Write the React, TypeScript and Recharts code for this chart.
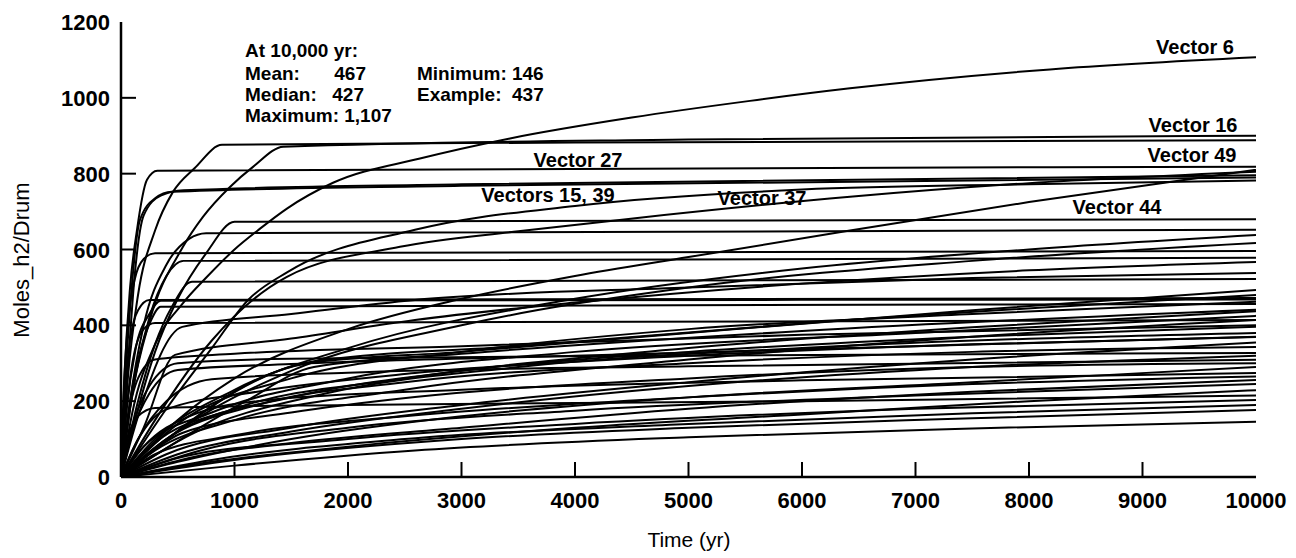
import React from "react";
import { LineChart, Line, XAxis, YAxis } from "recharts";

type Pt = [number, number];

const xTicks = [0, 1000, 2000, 3000, 4000, 5000, 6000, 7000, 8000, 9000, 10000];
const yTicks = [0, 200, 400, 600, 800, 1000, 1200];

// labelled vectors (time in yr, moles per drum)
const vector6: Pt[] = [[0, 0], [100, 170], [300, 350], [550, 460], [758, 528], [1000, 600], [1225, 655], [1462, 708], [1868, 776], [2634, 840], [3427, 893], [4500, 948], [5542, 992], [6423, 1025], [8185, 1075], [10000, 1107]];
const vector16: Pt[] = [[0, 0], [100, 220], [250, 410], [546, 607], [722, 686], [960, 765], [1163, 818], [1430, 871], [5000, 890], [10000, 900]];
const vector49: Pt[] = [[0, 0], [30, 260], [80, 500], [141, 652], [229, 784], [320, 808], [10000, 818]];
const vector15: Pt[] = [[0, 0], [40, 260], [100, 520], [167, 678], [300, 735], [450, 752], [3000, 768], [10000, 790]];
const vector39: Pt[] = [[0, 0], [55, 260], [120, 530], [200, 690], [350, 742], [550, 756], [3000, 772], [10000, 796]];
const vector37: Pt[] = [[0, 0], [300, 150], [800, 360], [1462, 528], [2458, 607], [3500, 648], [4511, 682], [6423, 739], [8000, 775], [10000, 805]];
const vector44: Pt[] = [[0, 0], [150, 180], [300, 330], [500, 470], [750, 590], [1000, 673], [10000, 680]];

const upperCurves: Pt[][] = [
  [[0, 0], [60, 260], [150, 480], [300, 650], [458, 752], [650, 815], [890, 876], [4000, 882], [10000, 888]],
  [[0, 0], [500, 150], [1000, 260], [2000, 390], [3000, 470], [4000, 530], [5000, 580], [6423, 650], [8000, 725], [10000, 810]],
  [[0, 0], [400, 180], [800, 340], [1120, 467], [1470, 541], [2590, 652], [4000, 715], [6000, 758], [8000, 772], [10000, 782]],
];

const plateauCurves: Pt[][] = [
  [[0, 0], [80, 200], [200, 400], [400, 560], [600, 628], [750, 643], [10000, 652]],
  [[0, 0], [20, 200], [60, 400], [120, 520], [200, 575], [300, 590], [10000, 596]],
  [[0, 0], [100, 220], [250, 420], [400, 530], [550, 570], [10000, 578]],
  [[0, 0], [150, 200], [300, 350], [450, 450], [625, 515], [10000, 522]],
  [[0, 0], [30, 200], [80, 360], [150, 440], [250, 467], [10000, 472]],
  [[0, 0], [50, 180], [130, 340], [250, 430], [350, 465], [10000, 468]],
  [[0, 0], [60, 160], [160, 320], [260, 410], [350, 449], [10000, 456]],
  [[0, 0], [40, 150], [100, 300], [200, 390], [300, 406], [10000, 414]],
];

const kneeCurves: Pt[][] = [
  [[0, 0], [60, 150], [150, 260], [300, 310], [1000, 325], [3000, 345], [6000, 375], [10000, 400]],
  [[0, 0], [100, 120], [250, 220], [500, 282], [1500, 298], [4000, 320], [7000, 345], [10000, 370]],
  [[0, 0], [150, 100], [400, 200], [800, 258], [2000, 275], [5000, 292], [10000, 309]],
  [[0, 0], [200, 80], [600, 160], [1200, 200], [3000, 230], [6000, 255], [10000, 274]],
  [[0, 0], [50, 90], [150, 160], [300, 182], [2000, 190], [6000, 200], [10000, 215]],
  [[0, 0], [80, 110], [250, 240], [500, 300], [1500, 312], [5000, 320], [10000, 327]],
  [[0, 0], [1650, 300], [3000, 330], [5000, 380], [7500, 440], [10000, 493]],
  [[0, 0], [1700, 305], [3500, 345], [6000, 405], [10000, 480]],
  [[0, 0], [1100, 200], [1700, 290], [3000, 325], [6000, 385], [10000, 441]],
];

const slowCurves: Pt[][] = [
  [[0, 0], [500, 60], [1500, 120], [3000, 180], [5000, 240], [7500, 290], [10000, 320]],
  [[0, 0], [500, 40], [1500, 100], [3000, 160], [5000, 210], [7500, 250], [10000, 290]],
  [[0, 0], [500, 50], [1500, 90], [3000, 130], [5000, 180], [7500, 225], [10000, 256]],
  [[0, 0], [800, 40], [2000, 80], [4000, 130], [6000, 165], [8000, 200], [10000, 229]],
  [[0, 0], [1000, 30], [2590, 70], [5000, 105], [7500, 128], [10000, 146]],
  [[0, 0], [600, 50], [2000, 100], [4000, 140], [7000, 180], [10000, 203]],
  [[0, 0], [400, 60], [1500, 130], [3000, 190], [5000, 250], [7500, 310], [10000, 355]],
  [[0, 0], [300, 70], [1000, 150], [2500, 230], [5000, 310], [7500, 370], [10000, 414]],
  [[0, 0], [300, 90], [1000, 180], [2500, 260], [5000, 340], [7500, 395], [10000, 437]],
  [[0, 0], [200, 80], [800, 170], [2000, 260], [4000, 330], [7000, 380], [10000, 425]],
  [[0, 0], [600, 110], [1800, 220], [3500, 290], [6000, 340], [10000, 380]],
  [[0, 0], [1000, 45], [3000, 100], [5000, 130], [7500, 155], [10000, 177]],
  [[0, 0], [700, 70], [2000, 130], [4000, 175], [7000, 215], [10000, 245]],
  [[0, 0], [400, 100], [1200, 190], [2500, 250], [5000, 300], [7500, 330], [10000, 343]],
  [[0, 0], [800, 45], [2500, 100], [5000, 140], [7500, 168], [10000, 190]],
  [[0, 0], [300, 60], [1000, 110], [2500, 160], [5000, 210], [7500, 245], [10000, 265]],
  [[0, 0], [500, 120], [1500, 210], [3000, 280], [5000, 330], [7500, 370], [10000, 396]],
  [[0, 0], [100, 70], [390, 177], [1200, 225], [2590, 274], [5000, 320], [7500, 350], [10000, 369]],
  [[0, 0], [200, 50], [540, 116], [1500, 170], [2590, 211], [5000, 260], [7500, 290], [10000, 300]],
];

const risingCurves: Pt[][] = [
  [[0, 0], [200, 130], [476, 322], [1500, 365], [2590, 414], [4000, 460], [6000, 510], [8000, 545], [10000, 567]],
  [[0, 0], [150, 160], [540, 396], [1500, 430], [2590, 467], [5000, 500], [7500, 525], [10000, 538]],
  [[0, 0], [300, 100], [1000, 230], [2000, 340], [4000, 470], [6000, 550], [8000, 600], [10000, 638]],
  [[0, 0], [500, 120], [1500, 280], [3000, 400], [5000, 500], [7500, 570], [10000, 617]],
  [[0, 0], [500, 140], [1500, 260], [3000, 330], [5000, 390], [7500, 430], [10000, 462]],
];

const statsHeader = "At 10,000 yr:";
const statsLeft = [["Mean:", "467"], ["Median:", "427"]];
const statsMax = "Maximum: 1,107";
const statsRight = ["Minimum: 146", "Example:  437"];

const allCurves: Pt[][] = [
  vector6, vector16, vector49, vector15, vector39, vector37, vector44,
  ...upperCurves, ...plateauCurves, ...kneeCurves, ...slowCurves, ...risingCurves,
];

const FONT = '"Liberation Sans", Arial, Helvetica, sans-serif';

function BottomTick(props: any) {
  const { x, y, payload } = props;
  const v = payload.value;
  return (
    <g>
      {v !== 0 && v !== 10000 && <line x1={x} y1={y} x2={x} y2={y - 15} stroke="#000" strokeWidth={2} />}
      <text x={x} y={y + 31} textAnchor="middle" fontFamily={FONT} fontSize={22} fontWeight="bold" fill="#000">
        {v}
      </text>
    </g>
  );
}

function TopTick(props: any) {
  const { x, y, payload } = props;
  const v = payload.value;
  if (v === 0 || v === 10000) return <g />;
  return <line x1={x} y1={y} x2={x} y2={y + 12} stroke="#000" strokeWidth={2} />;
}

function LeftTick(props: any) {
  const { x, y, payload } = props;
  const v = payload.value;
  return (
    <g>
      {v !== 0 && v !== 1200 && <line x1={x} y1={y} x2={x + 15} y2={y} stroke="#000" strokeWidth={2} />}
      <text x={x - 11} y={y + 8} textAnchor="end" fontFamily={FONT} fontSize={22} fontWeight="bold" fill="#000">
        {v}
      </text>
    </g>
  );
}

function RightTick(props: any) {
  const { x, y, payload } = props;
  const v = payload.value;
  if (v === 0 || v === 1200) return <g />;
  return <line x1={x} y1={y} x2={x - 12} y2={y} stroke="#000" strokeWidth={2} />;
}

const txt = { fontFamily: FONT, fill: "#000" };
const rows = [80, 101, 122];

export default function App() {
  const axisLine = { stroke: "#000", strokeWidth: 2.5 };
  return (
    <div style={{ position: "absolute", left: 0, top: 0, width: 1296, height: 558, background: "#fff" }}>
      <LineChart width={1296} height={558} margin={{ top: 22, right: 40, bottom: 0, left: 0 }}>
        <XAxis xAxisId="b" dataKey="t" type="number" domain={[0, 10000]} ticks={xTicks} interval={0}
          height={81} tickSize={0} tickMargin={0} tickLine={false} axisLine={axisLine} tick={BottomTick} allowDataOverflow />
        <XAxis xAxisId="t" orientation="top" dataKey="t" type="number" domain={[0, 10000]} ticks={xTicks} interval={0}
          height={0} tickSize={0} tickMargin={0} tickLine={false} axisLine={axisLine} tick={TopTick} allowDataOverflow />
        <YAxis yAxisId="l" type="number" domain={[0, 1200]} ticks={yTicks} interval={0}
          width={121} tickSize={0} tickMargin={0} tickLine={false} axisLine={axisLine} tick={LeftTick} allowDataOverflow />
        <YAxis yAxisId="r" orientation="right" type="number" domain={[0, 1200]} ticks={yTicks} interval={0}
          width={0} tickSize={0} tickMargin={0} tickLine={false} axisLine={axisLine} tick={RightTick} allowDataOverflow />
        {allCurves.map((pts, i) => (
          <Line
            key={`vec-${i}`}
            xAxisId="b"
            yAxisId="l"
            data={pts.map(([t, v]) => ({ t, v }))}
            dataKey="v"
            type="monotoneX"
            stroke="#000"
            strokeWidth={2}
            dot={false}
            activeDot={false}
            isAnimationActive={false}
          />
        ))}
      </LineChart>
      <svg width={1296} height={558} style={{ position: "absolute", left: 0, top: 0, pointerEvents: "none" }}>
        <text x={22} y={260} transform="rotate(-90 22 260)" dy={7} textAnchor="middle" fontSize={22} {...txt}>
          Moles_h2/Drum
        </text>
        <text x={689} y={547} textAnchor="middle" fontSize={21} {...txt}>Time (yr)</text>

        <g fontSize={19} fontWeight="bold" {...txt}>
          <text x={245} y={57}>{statsHeader}</text>
          {statsLeft.map(([k, v], i) => (
            <g key={k}>
              <text x={245} y={rows[i]}>{k}</text>
              <text x={[366, 364][i]} y={rows[i]} textAnchor="end">{v}</text>
            </g>
          ))}
          <text x={245} y={rows[2]}>{statsMax}</text>
          {statsRight.map((s, i) => (
            <text key={s} x={417} y={rows[i]} xmlSpace="preserve">{s}</text>
          ))}
        </g>

        <g fontSize={20} fontWeight="bold" textAnchor="middle" {...txt}>
          <text x={1195} y={54}>Vector 6</text>
          <text x={1193} y={132}>Vector 16</text>
          <text x={1192} y={162}>Vector 49</text>
          <text x={1117} y={214}>Vector 44</text>
          <text x={578} y={167}>Vector 27</text>
          <text x={548} y={202}>Vectors 15, 39</text>
          <text x={762} y={205}>Vector 37</text>
        </g>
      </svg>
    </div>
  );
}
